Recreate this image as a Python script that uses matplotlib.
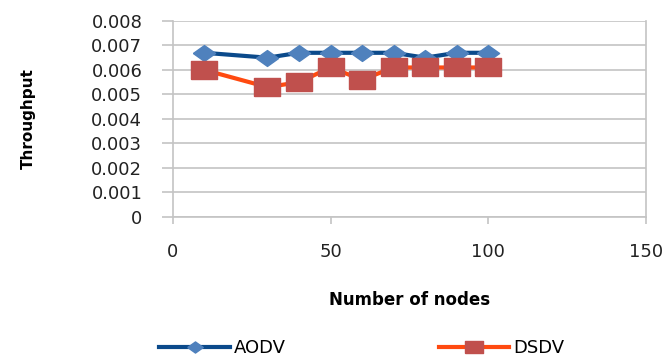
import matplotlib
matplotlib.use("Agg")
import matplotlib.pyplot as plt

# Number of nodes
nodes = [10, 30, 40, 50, 60, 70, 80, 90, 100]
# Throughput
aodv = [0.0067, 0.0065, 0.0067, 0.0067, 0.0067, 0.0067, 0.0065, 0.0067, 0.0067]
dsdv = [0.0060, 0.0053, 0.0055, 0.0061, 0.0056, 0.0061, 0.0061, 0.0061, 0.0061]
xticks = [0, 50, 100, 150]
yticks = [0, 0.001, 0.002, 0.003, 0.004, 0.005, 0.006, 0.007, 0.008]
ytick_labels = ['0', '0.001', '0.002', '0.003', '0.004', '0.005', '0.006', '0.007', '0.008']

# растянутые маркеры как на картинке
diamond = [(-1.4, 0), (0, -1), (1.4, 0), (0, 1), (-1.4, 0)]
square = [(-1.5, -1), (1.5, -1), (1.5, 1), (-1.5, 1), (-1.5, -1)]

fig = plt.figure(figsize=(6.7, 3.61), dpi=100)
ax = fig.add_axes([0.258, 0.399, 0.706, 0.543])

grey = '#C4C4C4'
ax.plot(nodes, aodv, color='#0B4A8B', lw=3, marker=diamond, ms=16,
        mfc='#4F81BD', mec='#4F81BD', label='AODV', zorder=3)
ax.plot(nodes, dsdv, color='#FF4A10', lw=3, marker=square, ms=19,
        mfc='#C0504D', mec='#C0504D', label='DSDV', zorder=3)

ax.set_xlim(0, 150)
ax.set_ylim(0, 0.008)
ax.set_xticks(xticks)
ax.set_yticks(yticks)
ax.set_yticklabels(ytick_labels)
ax.grid(True, axis='y', color=grey, lw=1.2)
ax.set_axisbelow(True)

for s in ['left', 'bottom', 'right']:
    ax.spines[s].set_color(grey)
    ax.spines[s].set_linewidth(1.2)
ax.spines['top'].set_visible(False)

ax.tick_params(axis='y', length=8, width=1.2, color=grey, pad=14, labelsize=13, labelcolor='#222222')
ax.tick_params(axis='x', length=5, width=1.2, color=grey, pad=14, labelsize=13, labelcolor='#222222')

ax.set_xlabel('Number of nodes', fontsize=12, fontweight='bold')
ax.xaxis.set_label_coords(0.5, -0.38)
ax.set_ylabel('Throughput', fontsize=11, fontweight='bold')
ax.yaxis.set_label_coords(-0.29, 0.5)

fig.legend(loc='center', bbox_to_anchor=(0.54, 0.035), ncol=2, frameon=False,
           fontsize=13, handlelength=3.9, handletextpad=0.2, columnspacing=8.5,
           markerscale=0.7)

plt.savefig('out.png', dpi=100)
